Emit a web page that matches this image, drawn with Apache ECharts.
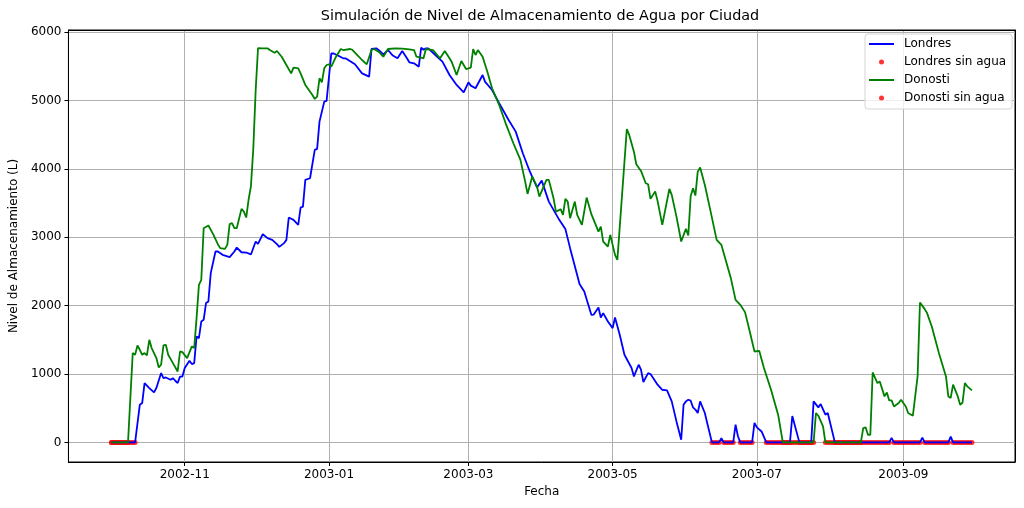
<!DOCTYPE html>
<html>
<head>
<meta charset="utf-8">
<script src="https://cdn.jsdelivr.net/npm/echarts@6/dist/echarts.min.js"></script>
<style>html,body{margin:0;padding:0;background:#fff}#c{width:1024px;height:508px}</style>
</head>
<body>
<div id="c"></div>
<script>
// Day offsets from 2002-10-01 and storage values (L)
const londres = [
[0,0],[10,0],[12,551],[13,576],[14,868],[16,795],[18,731],[19,795],[21,1014],[22,941],[23,950],[25,917],[26,940],[27,902],[28,868],[29,963],[30,963],[31,1088],[33,1194],[34,1146],[35,1160],[36,1550],[37,1525],[38,1769],[39,1794],[40,2038],[41,2062],[42,2476],[44,2793],[45,2793],[47,2744],[50,2710],[52,2793],[53,2851],[55,2782],[57,2778],[59,2750],[61,2939],[62,2905],[64,3047],[66,2988],[68,2963],[70,2900],[71,2861],[73,2915],[74,2963],[75,3290],[77,3256],[79,3183],[80,3436],[81,3450],[82,3841],[84,3865],[86,4279],[87,4294],[88,4693],[90,4985],[91,4996],[93,5693],[94,5690],[96,5658],[98,5620],[99,5620],[103,5532],[106,5400],[109,5351],[110,5756],[112,5766],[113,5741],[115,5678],[117,5741],[119,5660],[121,5620],[123,5727],[125,5620],[126,5561],[128,5546],[130,5497],[131,5775],[132,5745],[133,5766],[134,5766],[137,5668],[140,5571],[143,5376],[146,5230],[149,5123],[151,5269],[152,5220],[154,5181],[157,5376],[158,5278],[161,5156],[164,4962],[168,4718],[171,4547],[174,4231],[177,3960],[180,3730],[182,3830],[185,3523],[189,3281],[192,3124],[194,2842],[198,2316],[200,2208],[203,1867],[204,1870],[206,1974],[207,1827],[208,1892],[210,1769],[212,1672],[213,1827],[215,1575],[217,1282],[220,1088],[221,965],[223,1136],[224,1063],[225,883],[227,1014],[228,1000],[229,950],[231,844],[233,770],[235,760],[237,600],[239,307],[241,39],[242,551],[243,600],[244,624],[245,610],[246,512],[247,480],[248,430],[249,600],[251,430],[252,284],[254,0],[257,0],[258,60],[259,0],[263,0],[264,260],[265,90],[266,0],[271,0],[272,285],[273,220],[275,160],[277,0],[287,0],[288,385],[291,0],[296,0],[297,600],[299,512],[300,561],[302,405],[303,430],[306,0],[329,0],[330,65],[331,0],[342,0],[343,70],[344,0],[354,0],[355,85],[356,0],[364,0]
];
const donosti = [
[0,0],[7,0],[9,1307],[10,1280],[11,1418],[12,1355],[13,1282],[14,1307],[15,1272],[16,1501],[17,1380],[19,1234],[20,1097],[21,1136],[22,1418],[23,1428],[24,1282],[26,1160],[28,1038],[29,1330],[30,1320],[32,1233],[34,1404],[35,1380],[36,1819],[37,2306],[38,2379],[39,3134],[41,3173],[43,3047],[45,2900],[46,2842],[48,2832],[49,2890],[50,3193],[51,3207],[52,3134],[53,3134],[55,3417],[56,3377],[57,3290],[58,3550],[59,3750],[60,4300],[61,5150],[62,5770],[64,5765],[66,5766],[67,5741],[69,5702],[70,5727],[72,5643],[74,5522],[76,5400],[77,5483],[79,5473],[80,5400],[82,5230],[85,5083],[86,5025],[87,5058],[88,5327],[89,5269],[90,5473],[91,5522],[92,5532],[93,5497],[95,5643],[97,5756],[98,5741],[101,5756],[102,5741],[104,5668],[106,5595],[108,5532],[110,5741],[111,5756],[113,5717],[115,5643],[117,5756],[120,5766],[123,5760],[126,5750],[128,5741],[129,5643],[131,5629],[132,5620],[133,5756],[136,5741],[138,5658],[139,5620],[141,5727],[143,5620],[144,5561],[146,5376],[148,5581],[150,5463],[152,5483],[153,5756],[154,5668],[155,5741],[157,5643],[159,5424],[161,5181],[164,4937],[167,4645],[170,4377],[173,4133],[175,3816],[176,3636],[178,3889],[180,3743],[181,3596],[184,3841],[185,3841],[187,3573],[188,3377],[190,3412],[191,3329],[192,3563],[193,3523],[194,3281],[196,3523],[197,3329],[199,3183],[201,3582],[203,3339],[206,3085],[207,3158],[208,2939],[210,2866],[211,3037],[212,2890],[213,2744],[214,2671],[218,4586],[219,4499],[221,4254],[222,4070],[224,3972],[226,3792],[227,3777],[228,3563],[230,3670],[231,3534],[233,3183],[236,3709],[237,3621],[239,3304],[241,2939],[243,3124],[244,3027],[245,3600],[246,3719],[247,3611],[248,3962],[249,4021],[251,3767],[253,3450],[256,2963],[258,2890],[259,2769],[262,2403],[264,2086],[266,2013],[268,1906],[270,1623],[272,1330],[274,1340],[276,1088],[279,770],[282,405],[284,0],[297,0],[298,430],[299,390],[301,234],[302,0],[317,0],[318,210],[319,220],[320,112],[321,112],[322,1023],[324,868],[325,892],[327,673],[328,731],[329,614],[330,614],[331,526],[333,576],[334,624],[336,526],[337,430],[339,390],[341,965],[342,2047],[344,1950],[345,1892],[347,1696],[350,1307],[353,965],[354,673],[355,650],[356,844],[358,673],[359,551],[360,580],[361,868],[362,820],[364,760]
];
// Day ranges (inclusive) with empty storage
const londresDry = [[0,10],[254,257],[259,263],[266,271],[277,287],[291,296],[306,329],[331,342],[344,354],[356,364]];
const donostiDry = [[0,7],[284,297],[302,317]];
// Tick labels
const xTickLabels = ['2002-11','2003-01','2003-03','2003-05','2003-07','2003-09'];
const yTicks = [0,1000,2000,3000,4000,5000,6000];
const firstDate = [2002, 10, 1];
const lastDay = 364;

const DAY = 86400000;
const t0 = Date.UTC(firstDate[0], firstDate[1]-1, firstDate[2]);
function dryPoints(ranges){
  const out = [];
  ranges.forEach(r => { for (let d = r[0]; d <= r[1]; d++) out.push([d, 0]); });
  return out;
}
const xTickValues = xTickLabels.map(s => { const [y,m] = s.split('-').map(Number); return Math.round((Date.UTC(y, m-1, 1) - t0)/DAY); });
const xMin = -0.05*lastDay;
const xMax = lastDay + 0.05*lastDay;
const yMin = -287, yMax = 6034;

const chart = echarts.init(document.getElementById('c'), null, {renderer:'canvas'});
const FONT = 'DejaVu Sans';
function spine(){ return {show:true, onZero:false, lineStyle:{color:'#000000', width:1}}; }
const hiddenLegendDot = {opacity:0, color:'rgba(0,0,0,0)', borderWidth:0};
chart.setOption({
  animation:false,
  backgroundColor:'#ffffff',
  textStyle:{fontFamily:FONT},
  title:{
    text:'Simulación de Nivel de Almacenamiento de Agua por Ciudad',
    left:535, textAlign:'center', top:4,
    textStyle:{fontSize:14.4, fontWeight:'normal', color:'#000', fontFamily:FONT}
  },
  legend:{
    orient:'vertical', left:865, top:34,
    itemWidth:25, itemHeight:5, itemGap:4,
    padding:[3,6,4,3],
    backgroundColor:'rgba(255,255,255,0.8)',
    borderColor:'#d5d5d5', borderWidth:1, borderRadius:3,
    textStyle:{fontSize:12, color:'#000', fontFamily:FONT, lineHeight:14, padding:[0,0,0,5]},
    data:[
      {name:'Londres', itemStyle:hiddenLegendDot},
      'Londres sin agua',
      {name:'Donosti', itemStyle:hiddenLegendDot},
      'Donosti sin agua'
    ]
  },
  grid:{left:64, right:9, top:30, bottom:46, show:true, borderColor:'#000000', borderWidth:1, backgroundColor:'rgba(0,0,0,0)'},
  xAxis:[{
    type:'value', min:xMin, max:xMax,
    name:'Fecha', nameLocation:'middle', nameGap:22,
    nameTextStyle:{fontSize:12, color:'#000', fontFamily:FONT},
    axisLine:spine(),
    axisTick:{show:true, length:4, lineStyle:{color:'#000', width:1}, customValues:xTickValues},
    axisLabel:{customValues:xTickValues, fontSize:12, color:'#000', fontFamily:FONT, margin:7,
      formatter:function(v){ const i = xTickValues.indexOf(Math.round(v)); return i >= 0 ? xTickLabels[i] : ''; }},
    splitLine:{show:true, lineStyle:{color:'#b0b0b0', width:1}}
  },{
    type:'value', position:'top', min:xMin, max:xMax, show:true,
    axisLine:spine(), axisTick:{show:false}, axisLabel:{show:false}, splitLine:{show:false}
  }],
  yAxis:[{
    type:'value', min:yMin, max:yMax,
    name:'Nivel de Almacenamiento (L)', nameLocation:'middle', nameGap:43,
    nameTextStyle:{fontSize:12, color:'#000', fontFamily:FONT},
    axisLine:spine(),
    axisTick:{show:true, length:4, lineStyle:{color:'#000', width:1}, customValues:yTicks},
    axisLabel:{customValues:yTicks, fontSize:12, color:'#000', fontFamily:FONT, margin:7,
      formatter:function(v){ return String(v); }},
    splitLine:{show:true, lineStyle:{color:'#b0b0b0', width:1}}
  },{
    type:'value', position:'right', min:yMin, max:yMax, show:true,
    axisLine:spine(), axisTick:{show:false}, axisLabel:{show:false}, splitLine:{show:false}
  }],
  series:[
    {name:'Londres sin agua', type:'scatter', data:dryPoints(londresDry), symbol:'circle', symbolSize:5,
     itemStyle:{color:'#ff0000'}, z:1, silent:true},
    {name:'Donosti sin agua', type:'scatter', data:dryPoints(donostiDry), symbol:'circle', symbolSize:5,
     itemStyle:{color:'#ff0000'}, z:1, silent:true},
    {name:'Londres', type:'line', data:londres, showSymbol:false, symbol:'none',
     lineStyle:{color:'#0000ff', width:1.8}, itemStyle:{color:'#0000ff'}, z:3, silent:true},
    {name:'Donosti', type:'line', data:donosti, showSymbol:false, symbol:'none',
     lineStyle:{color:'#008000', width:1.8}, itemStyle:{color:'#008000'}, z:4, silent:true}
  ]
});
</script>
</body>
</html>
